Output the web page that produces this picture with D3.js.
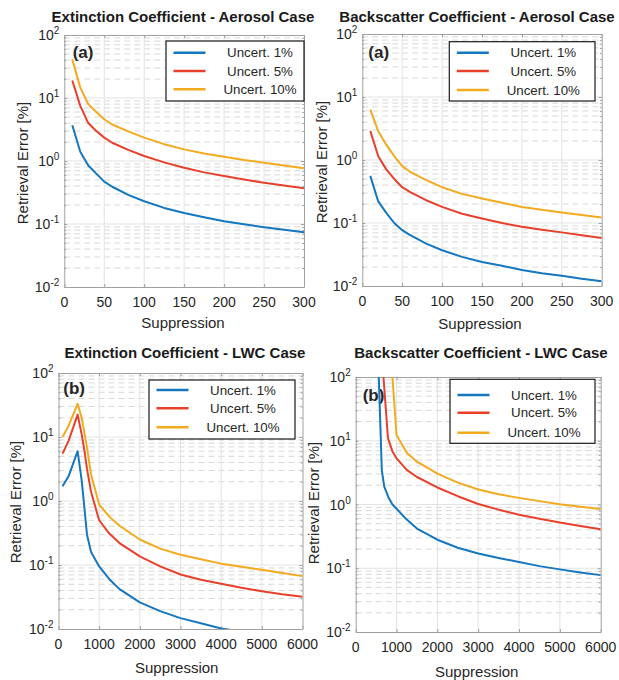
<!DOCTYPE html>
<html>
<head>
<meta charset="utf-8">
<script src="https://cdn.jsdelivr.net/npm/d3@7"></script>
<style>
  html, body { margin: 0; padding: 0; background: #fff; }
  svg { display: block; font-family: "Liberation Sans", Arial, sans-serif; }
</style>
</head>
<body>
<svg id="chart" width="619" height="680"></svg>
<script>
// ---- data ----
const seriesNames = ["Uncert. 1%", "Uncert. 5%", "Uncert. 10%"];

const aerosolTicks = [0, 50, 100, 150, 200, 250, 300];
const lwcTicks = [0, 1000, 2000, 3000, 4000, 5000, 6000];
const yTickExponents = [-2, -1, 0, 1, 2];

// Aerosol case, suppression 10..300
const aerosolX = [10, 20, 30, 40, 50, 60, 80, 100, 125, 150, 175, 200, 225, 250, 275, 300];
const extAerosol1 = [3.7, 1.4, 0.85, 0.63, 0.47, 0.39, 0.29, 0.23, 0.18, 0.15, 0.128, 0.111, 0.099, 0.089, 0.081, 0.074];
const extAerosol5 = [19, 7.5, 4.0, 3.0, 2.35, 1.95, 1.5, 1.2, 0.95, 0.78, 0.66, 0.58, 0.51, 0.45, 0.41, 0.37];
const extAerosol10 = [41, 14.6, 8.0, 6.0, 4.6, 3.8, 2.95, 2.35, 1.85, 1.53, 1.32, 1.17, 1.04, 0.94, 0.85, 0.77];
const bscAerosol1 = [0.56, 0.22, 0.145, 0.1, 0.077, 0.064, 0.047, 0.037, 0.029, 0.024, 0.021, 0.018, 0.016, 0.0145, 0.013, 0.0119];
const bscAerosol5 = [2.9, 1.15, 0.71, 0.5, 0.37, 0.31, 0.23, 0.18, 0.14, 0.118, 0.1, 0.087, 0.078, 0.071, 0.064, 0.058];
const bscAerosol10 = [6.3, 2.85, 1.75, 1.15, 0.80, 0.65, 0.48, 0.37, 0.29, 0.245, 0.21, 0.18, 0.162, 0.147, 0.134, 0.122];

// LWC case, extinction, suppression 100..6000
const extLwcX = [100, 250, 470, 570, 640, 700, 800, 1000, 1250, 1500, 2000, 2500, 3000, 3500, 4000, 4500, 5000, 5500, 6000];
const extLwc1 = [1.7, 2.45, 6.0, 2.1, 0.75, 0.3, 0.16, 0.095, 0.06, 0.042, 0.026, 0.019, 0.0148, 0.0123, 0.0102, 0.0091, 0.0082, 0.0074, 0.0067];
const extLwc5 = [5.5, 8.8, 22.4, 11, 6.0, 3.2, 1.39, 0.5, 0.31, 0.22, 0.136, 0.095, 0.071, 0.059, 0.051, 0.044, 0.039, 0.035, 0.032];
const extLwc10 = [10, 15, 33, 20, 11.4, 6.9, 2.6, 0.88, 0.57, 0.41, 0.25, 0.18, 0.145, 0.123, 0.105, 0.094, 0.084, 0.075, 0.067];

// LWC case, backscatter: each curve starts where it leaves the 100 % ceiling
const bscLwcX1 = [550, 640, 700, 800, 900, 1000, 1250, 1500, 2000, 2500, 3000, 3500, 4000, 4500, 5000, 5500, 6000];
const bscLwc1 = [200, 3.4, 1.9, 1.3, 1.0, 0.86, 0.58, 0.42, 0.28, 0.21, 0.17, 0.145, 0.125, 0.108, 0.096, 0.086, 0.078];
const bscLwcX5 = [660, 790, 900, 1000, 1250, 1500, 2000, 2500, 3000, 3500, 4000, 4500, 5000, 5500, 6000];
const bscLwc5 = [150, 11, 6.8, 5.3, 3.5, 2.7, 1.85, 1.35, 1.02, 0.83, 0.69, 0.6, 0.52, 0.46, 0.41];
const bscLwcX10 = [880, 1000, 1250, 1500, 2000, 2500, 3000, 3500, 4000, 4500, 5000, 5500, 6000];
const bscLwc10 = [150, 12.3, 6.5, 4.7, 3.05, 2.2, 1.72, 1.45, 1.27, 1.13, 1.01, 0.92, 0.85];

// ---- styling ----
const colors = ["#1477bf", "#e8402b", "#f4aa1f"];
const textColor = "#262626";
const gridColor = "#e3e3e3";
const minorColor = "#d8d8d8";
const frameColor = "#a0a0a0";

const panels = [
  {
    box: { l: 64.3, r: 304, t: 35, b: 287 }, xMax: 300, xTicks: aerosolTicks,
    title: "Extinction Coefficient - Aerosol Case", titlePos: [183, 21.7],
    tag: "(a)", tagPos: [72.7, 58],
    ylabelPos: [22.7, 163], xlabelPos: [183, 323],
    series: [[aerosolX, extAerosol1], [aerosolX, extAerosol5], [aerosolX, extAerosol10]],
    legend: { l: 166, r: 304, t: 41, b: 101, rows: [52.7, 71, 89.3] }
  },
  {
    box: { l: 362.3, r: 601.7, t: 34, b: 286 }, xMax: 300, xTicks: aerosolTicks,
    title: "Backscatter Coefficient - Aerosol Case", titlePos: [477, 22],
    tag: "(a)", tagPos: [368.3, 58],
    ylabelPos: [321.7, 162], xlabelPos: [480, 323.3],
    series: [[aerosolX, bscAerosol1], [aerosolX, bscAerosol5], [aerosolX, bscAerosol10]],
    legend: { l: 449.3, r: 595, t: 41.7, b: 101, rows: [52.7, 71, 90] }
  },
  {
    box: { l: 58.5, r: 302.5, t: 373, b: 629 }, xMax: 6000, xTicks: lwcTicks,
    title: "Extinction Coefficient - LWC Case", titlePos: [185, 358.3],
    tag: "(b)", tagPos: [63.3, 394],
    ylabelPos: [16, 502], xlabelPos: [176.7, 668],
    series: [[extLwcX, extLwc1], [extLwcX, extLwc5], [extLwcX, extLwc10]],
    legend: { l: 149, r: 295, t: 380, b: 439, rows: [390, 408.3, 427.3] }
  },
  {
    box: { l: 355.7, r: 600.7, t: 377, b: 632 }, xMax: 6000, xTicks: lwcTicks,
    title: "Backscatter Coefficient - LWC Case", titlePos: [481, 358],
    tag: "(b)", tagPos: [362.7, 400.5],
    ylabelPos: [314, 503], xlabelPos: [476.7, 671.7],
    series: [[bscLwcX1, bscLwc1], [bscLwcX5, bscLwc5], [bscLwcX10, bscLwc10]],
    legend: { l: 450, r: 595, t: 379.3, b: 443.3, rows: [395, 412.7, 432.7] }
  }
];

const svg = d3.select("#chart");
svg.append("rect").attr("width", 619).attr("height", 680).attr("fill", "#fff");

const majorVals = yTickExponents.map(e => Math.pow(10, e));
const minorVals = [];
yTickExponents.slice(0, -1).forEach(e => {
  for (let k = 2; k <= 9; k++) minorVals.push(k * Math.pow(10, e));
});

panels.forEach((p, i) => {
  const { l, r, t, b } = p.box;
  const x = d3.scaleLinear().domain([0, p.xMax]).range([l, r]);
  const y = d3.scaleLog().domain([0.01, 100]).range([b, t]);
  const g = svg.append("g");

  // clip region for the curves
  const clipId = "clip" + i;
  svg.append("defs").append("clipPath").attr("id", clipId)
    .append("rect").attr("x", l).attr("y", t).attr("width", r - l).attr("height", b - t);

  // grid
  const grid = g.append("g");
  grid.selectAll(".minor").data(minorVals).join("line")
    .attr("x1", l).attr("x2", r).attr("y1", d => y(d)).attr("y2", d => y(d))
    .attr("stroke", minorColor).attr("stroke-width", 1).attr("stroke-dasharray", "6,4");
  grid.selectAll(".hmaj").data(majorVals.slice(1, -1)).join("line")
    .attr("x1", l).attr("x2", r).attr("y1", d => y(d)).attr("y2", d => y(d))
    .attr("stroke", gridColor).attr("stroke-width", 1);
  grid.selectAll(".vmaj").data(p.xTicks.slice(1, -1)).join("line")
    .attr("x1", d => x(d)).attr("x2", d => x(d)).attr("y1", t).attr("y2", b)
    .attr("stroke", gridColor).attr("stroke-width", 1);

  // axes with inward ticks (MATLAB style box)
  const axStyle = sel => {
    sel.select(".domain").attr("stroke", frameColor);
    sel.selectAll(".tick line").attr("stroke", frameColor);
    sel.selectAll(".tick text").remove();
  };
  g.append("g").attr("transform", `translate(0,${b})`)
    .call(d3.axisBottom(x).tickValues(p.xTicks).tickSizeInner(-3).tickSizeOuter(0)).call(axStyle);
  g.append("g").attr("transform", `translate(0,${t})`)
    .call(d3.axisTop(x).tickValues(p.xTicks).tickSizeInner(-3).tickSizeOuter(0)).call(axStyle);
  g.append("g").attr("transform", `translate(${l},0)`)
    .call(d3.axisLeft(y).tickValues(majorVals.concat(minorVals)).tickSizeInner(-3).tickSizeOuter(0)).call(axStyle);
  g.append("g").attr("transform", `translate(${r},0)`)
    .call(d3.axisRight(y).tickValues(majorVals.concat(minorVals)).tickSizeInner(-3).tickSizeOuter(0)).call(axStyle);
  g.selectAll(".tick line").filter(function () {
    return minorVals.includes(d3.select(this.parentNode).datum());
  }).attr("x2", function () { return +d3.select(this).attr("x2") * 0.6; });

  // tick labels
  g.append("g").selectAll("text").data(p.xTicks).join("text")
    .attr("x", d => x(d)).attr("y", b + 19.5)
    .attr("text-anchor", "middle").attr("font-size", 14).attr("fill", textColor)
    .text(d => d);
  const yl = g.append("g").selectAll("text").data(yTickExponents).join("text")
    .attr("x", l - 5).attr("y", d => y(Math.pow(10, d)) + 5)
    .attr("text-anchor", "end").attr("font-size", 14).attr("fill", textColor);
  yl.append("tspan").text("10");
  yl.append("tspan").attr("dy", -6).attr("font-size", 10).text(d => d < 0 ? "-" + Math.abs(d) : d);

  // panel tag
  g.append("text").attr("x", p.tagPos[0]).attr("y", p.tagPos[1])
    .attr("font-size", 17).attr("font-weight", "bold").attr("fill", textColor).text(p.tag);

  // curves
  const line = d3.line().x(d => x(d[0])).y(d => y(d[1]));
  g.append("g").attr("clip-path", `url(#${clipId})`)
    .selectAll("path").data(p.series).join("path")
    .attr("d", s => line(s[0].map((xv, k) => [xv, s[1][k]])))
    .attr("fill", "none").attr("stroke", (s, k) => colors[k])
    .attr("stroke-width", 2).attr("stroke-linejoin", "round");

  // legend
  const L = p.legend;
  const lg = g.append("g");
  lg.append("rect").attr("x", L.l).attr("y", L.t).attr("width", L.r - L.l).attr("height", L.b - L.t)
    .attr("fill", "#fff").attr("stroke", "#1a1a1a").attr("stroke-width", 1.2);
  seriesNames.forEach((name, k) => {
    lg.append("line").attr("x1", L.l + 7.5).attr("x2", L.l + 39.5)
      .attr("y1", L.rows[k]).attr("y2", L.rows[k])
      .attr("stroke", colors[k]).attr("stroke-width", 2.6);
    lg.append("text").attr("x", L.l + 94).attr("y", L.rows[k] + 4.6)
      .attr("text-anchor", "middle").attr("font-size", 13.3).attr("fill", textColor).text(name);
  });

  // titles and axis labels
  g.append("text").attr("x", p.titlePos[0]).attr("y", p.titlePos[1])
    .attr("text-anchor", "middle").attr("font-size", 15).attr("font-weight", "bold")
    .attr("fill", "#1a1a1a").text(p.title);
  g.append("text").attr("transform", `translate(${p.xlabelPos[0]},${p.xlabelPos[1]})`)
    .attr("dy", "0.35em").attr("text-anchor", "middle").attr("font-size", 15)
    .attr("fill", textColor).text("Suppression");
  g.append("text").attr("transform", `translate(${p.ylabelPos[0]},${p.ylabelPos[1]}) rotate(-90)`)
    .attr("dy", "0.35em").attr("text-anchor", "middle").attr("font-size", 15)
    .attr("fill", textColor).text("Retrieval Error [%]");
});
</script>
</body>
</html>
